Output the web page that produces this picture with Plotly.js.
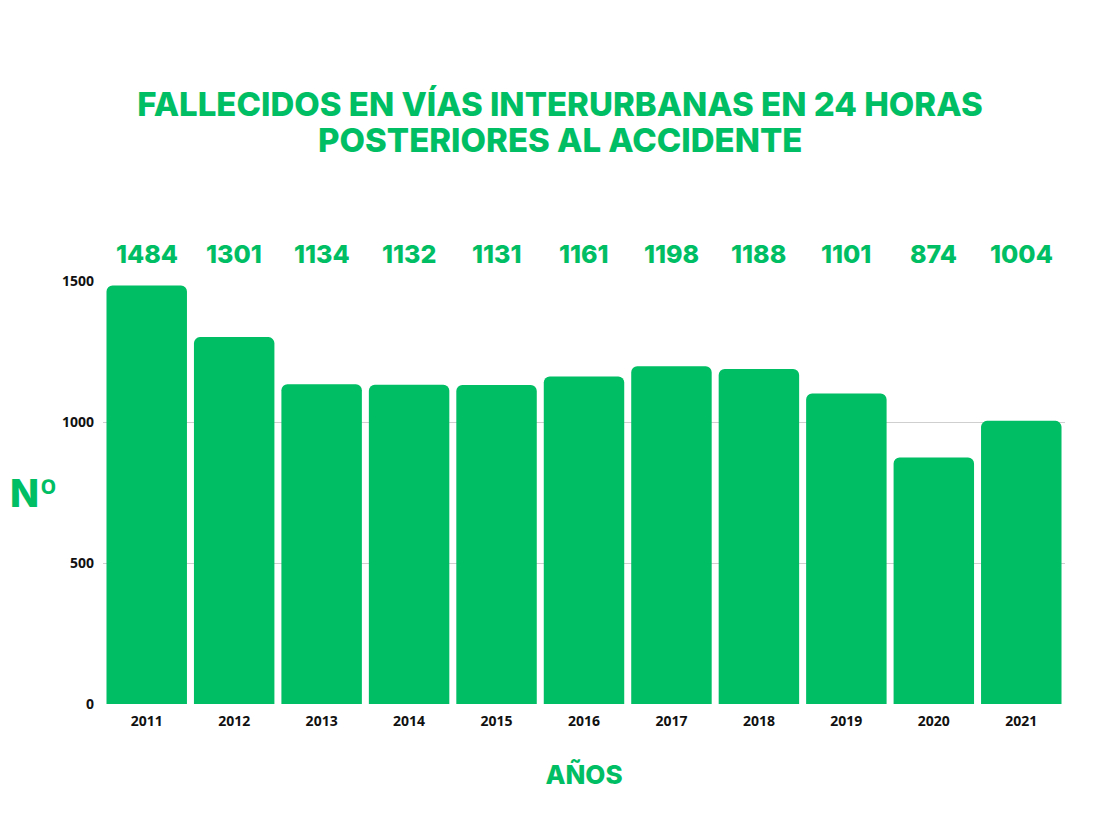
<!DOCTYPE html>
<html>
<head>
<meta charset="utf-8">
<script src="https://cdn.plot.ly/plotly-3.0.1.min.js"></script>
<style>html,body{margin:0;padding:0;background:#fff;}#chart{width:1120px;height:840px;}</style>
</head>
<body>
<div id="chart"></div>
<script>
const years = ['2011','2012','2013','2014','2015','2016','2017','2018','2019','2020','2021'];
const fallecidos = [1484,1301,1134,1132,1131,1161,1198,1188,1101,874,1004];
const yTicks = [0,500,1000,1500];
const titleLines = ['FALLECIDOS EN VÍAS INTERURBANAS EN 24 HORAS', 'POSTERIORES AL ACCIDENTE'];

const green = '#00BE64';
const titleFont = {family: 'Inter, "Open Sans", sans-serif', size: 33, color: green, weight: 800};
const trace = {
  type: 'bar',
  x: years,
  y: fallecidos,
  marker: {color: green},
  hoverinfo: 'x+y'
};

const valueLabels = years.map((yr, i) => ({
  x: i, y: 1, xref: 'x', yref: 'paper', yanchor: 'bottom', yshift: 10,
  text: String(fallecidos[i]), showarrow: false,
  font: {family: 'Inter, "Open Sans", sans-serif', size: 25, color: green, weight: 800}
}));

const layout = {
  width: 1120, height: 840,
  paper_bgcolor: '#fff', plot_bgcolor: '#fff',
  margin: {l: 103, r: 55, t: 281, b: 136},
  showlegend: false,
  bargap: 0.08,
  barcornerradius: 6,
  title: {
    text: titleLines[0],
    font: titleFont,
    x: 0.5, xanchor: 'center', yref: 'container', y: 1 - 104/840, yanchor: 'middle'
  },
  xaxis: {
    type: 'category',
    tickfont: {family: '"Open Sans", sans-serif', size: 14, color: '#111', weight: 700},
    showgrid: false, zeroline: false, showline: false, ticks: '', ticklabelstandoff: 7,
    title: {text: 'AÑOS', standoff: 36,
      font: {family: 'Inter, "Open Sans", sans-serif', size: 26, color: green, weight: 800}}
  },
  yaxis: {
    range: [0, 1500],
    tickvals: yTicks,
    ticktext: yTicks.map(String),
    tickfont: {family: '"Open Sans", sans-serif', size: 14, color: '#111', weight: 700},
    gridcolor: '#cfcfcf', gridwidth: 1,
    zeroline: false, showline: false, ticks: '', ticklabelstandoff: 8
  },
  annotations: valueLabels.concat([{
    text: titleLines[1], xref: 'paper', yref: 'paper', x: (560 - 103) / (1120 - 103 - 55), y: (704 - 140) / 423,
    xanchor: 'center', yanchor: 'middle', showarrow: false, font: titleFont
  }, {
    text: 'Nº', xref: 'paper', yref: 'paper', x: -0.072, y: 0.5, xanchor: 'center', yanchor: 'middle',
    showarrow: false, font: {family: 'Inter, "Open Sans", sans-serif', size: 38, color: green, weight: 800}
  }])
};

Plotly.newPlot('chart', [trace], layout, {displayModeBar: false, responsive: false});
</script>
</body>
</html>
